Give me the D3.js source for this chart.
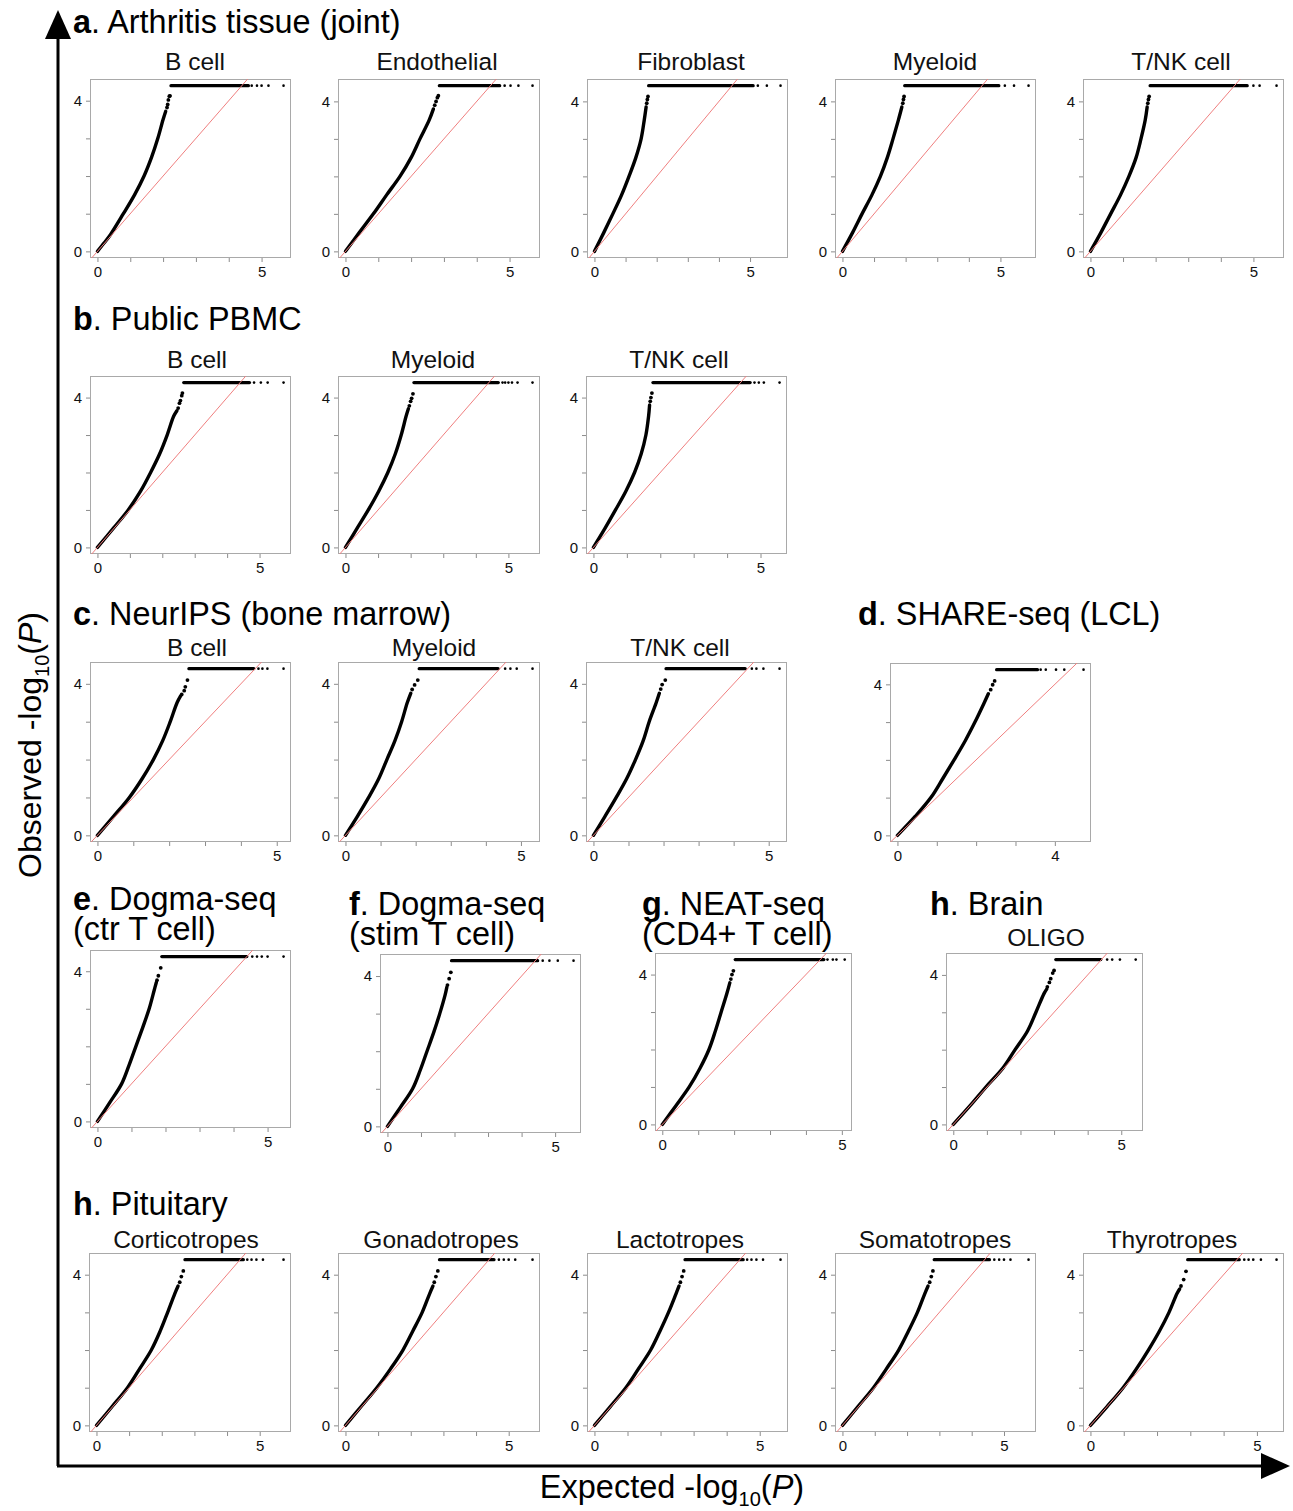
<!DOCTYPE html>
<html><head><meta charset="utf-8">
<script src="https://cdn.jsdelivr.net/npm/d3@7"></script>
<style>body{margin:0;background:#fff} text{font-family:"Liberation Sans", Arial, Helvetica, sans-serif}</style>
</head><body><svg id="c" width="1293" height="1511"></svg>
<script>
// ---------------- DATA ----------------
const panelIds = ["a1","a2","a3","a4","a5","b1","b2","b3","c1","c2","c3","d","e","f","g","h","p1","p2","p3","p4","p5"];
const panelTitles = ["B cell","Endothelial","Fibroblast","Myeloid","T/NK cell","B cell","Myeloid","T/NK cell","B cell","Myeloid","T/NK cell","","","","","OLIGO","Corticotropes","Gonadotropes","Lactotropes","Somatotropes","Thyrotropes"];
const xMaxValues = [5.67,5.70,5.98,5.89,5.71,5.74,5.74,5.57,5.19,5.33,5.31,4.73,5.47,5.55,5.08,5.43,5.73,5.73,5.63,5.76,5.59];
const capValues = [4.40,4.42,4.42,4.42,4.42,4.40,4.40,4.40,4.40,4.40,4.40,4.39,4.39,4.41,4.40,4.41,4.40,4.40,4.40,4.40,4.40];
const curvePoints = [
  [[0,0],[0.2,0.22],[0.4,0.45],[0.79,1],[1.13,1.5],[1.42,2],[1.65,2.5],[1.84,3],[2.0,3.5],[2.08,3.72]],
  [[0,0],[0.42,0.5],[0.85,1],[1.25,1.5],[1.66,2],[2.0,2.5],[2.27,3],[2.55,3.5],[2.68,3.8]],
  [[0,0],[0.3,0.5],[0.59,1],[0.87,1.5],[1.11,2],[1.33,2.5],[1.5,3],[1.6,3.5],[1.66,3.85]],
  [[0,0],[0.32,0.5],[0.62,1],[0.93,1.5],[1.2,2],[1.42,2.5],[1.6,3],[1.77,3.5],[1.88,3.85]],
  [[0,0],[0.32,0.5],[0.62,1],[0.92,1.5],[1.18,2],[1.4,2.5],[1.55,3],[1.68,3.5],[1.74,3.85]],
  [[0,0],[0.5,0.52],[0.95,1],[1.33,1.5],[1.64,2],[1.92,2.5],[2.15,3],[2.35,3.5],[2.45,3.65]],
  [[0,0],[0.35,0.5],[0.7,1],[1.02,1.5],[1.3,2],[1.53,2.5],[1.71,3],[1.86,3.5],[1.93,3.7]],
  [[0,0],[0.34,0.5],[0.66,1],[0.97,1.5],[1.23,2],[1.43,2.5],[1.57,3],[1.65,3.5],[1.68,3.8]],
  [[0,0],[0.45,0.5],[0.89,1],[1.25,1.5],[1.56,2],[1.82,2.5],[2.03,3],[2.22,3.5],[2.32,3.68]],
  [[0,0],[0.34,0.5],[0.66,1],[0.95,1.5],[1.18,2],[1.41,2.5],[1.6,3],[1.76,3.5],[1.86,3.75]],
  [[0,0],[0.33,0.5],[0.65,1],[0.95,1.5],[1.2,2],[1.42,2.5],[1.59,3],[1.79,3.5],[1.88,3.75]],
  [[0,0],[0.45,0.5],[0.85,1],[1.15,1.5],[1.44,2],[1.72,2.5],[1.97,3],[2.2,3.5],[2.31,3.75]],
  [[0,0],[0.36,0.5],[0.71,1],[0.93,1.5],[1.13,2],[1.33,2.5],[1.52,3],[1.67,3.5],[1.73,3.7]],
  [[0,0],[0.38,0.5],[0.75,1],[0.98,1.5],[1.18,2],[1.38,2.5],[1.56,3],[1.72,3.5],[1.77,3.7]],
  [[0,0],[0.38,0.5],[0.75,1],[1.05,1.5],[1.3,2],[1.48,2.5],[1.64,3],[1.8,3.5],[1.88,3.78]],
  [[0,0],[0.5,0.5],[0.97,1],[1.47,1.5],[1.84,2],[2.21,2.5],[2.46,3],[2.7,3.5],[2.78,3.62]],
  [[0,0],[0.48,0.5],[0.95,1],[1.32,1.5],[1.68,2],[1.95,2.5],[2.18,3],[2.4,3.5],[2.5,3.7]],
  [[0,0],[0.48,0.5],[0.96,1],[1.38,1.5],[1.76,2],[2.06,2.5],[2.35,3],[2.58,3.5],[2.68,3.7]],
  [[0,0],[0.48,0.5],[0.95,1],[1.33,1.5],[1.7,2],[1.98,2.5],[2.24,3],[2.47,3.5],[2.56,3.7]],
  [[0,0],[0.48,0.5],[0.96,1],[1.36,1.5],[1.74,2],[2.04,2.5],[2.32,3],[2.55,3.5],[2.65,3.7]],
  [[0,0],[0.5,0.5],[0.98,1],[1.38,1.5],[1.74,2],[2.07,2.5],[2.36,3],[2.6,3.5],[2.68,3.62]]
];
const topDots = [
  [[2.12,3.82],[2.14,3.9],[2.16,4.02],[2.19,4.12],[2.21,4.13]],
  [[2.72,3.9],[2.76,4.0],[2.8,4.1],[2.83,4.15]],
  [[1.68,3.95],[1.7,4.05],[1.72,4.13]],
  [[1.91,3.95],[1.93,4.05],[1.95,4.13]],
  [[1.76,3.95],[1.78,4.05],[1.8,4.13]],
  [[2.49,3.72],[2.53,3.85],[2.56,3.92],[2.6,4.05],[2.62,4.12]],
  [[1.96,3.78],[2.0,3.9],[2.03,3.98],[2.07,4.1]],
  [[1.7,3.9],[1.72,4.0],[1.75,4.12]],
  [[2.35,3.72],[2.42,3.82],[2.45,3.92],[2.51,4.1]],
  [[1.9,3.85],[1.97,3.97],[2.06,4.1]],
  [[1.92,3.86],[1.96,3.98],[2.05,4.1]],
  [[2.37,3.86],[2.42,3.99],[2.47,4.09]],
  [[1.75,3.76],[1.79,3.88],[1.86,4.09]],
  [[1.79,3.76],[1.84,3.93],[1.89,4.1]],
  [[1.91,3.88],[1.94,4.0],[1.98,4.1]],
  [[2.8,3.68],[2.86,3.8],[2.9,3.9],[2.96,4.05],[3.0,4.12]],
  [[2.55,3.8],[2.6,3.95],[2.66,4.1]],
  [[2.72,3.8],[2.77,3.95],[2.83,4.1]],
  [[2.6,3.8],[2.65,3.95],[2.7,4.1]],
  [[2.7,3.8],[2.75,3.95],[2.8,4.1]],
  [[2.72,3.7],[2.8,3.87],[2.87,4.09]]
];
const plateauStart = [2.24,2.86,1.74,1.97,1.83,2.66,2.10,1.78,2.55,2.10,2.07,2.52,1.89,1.91,2.03,3.05,2.71,2.88,2.74,2.84,2.92];
const plateauDenseEnd = [4.60,4.70,5.10,4.95,4.81,4.69,4.69,4.69,4.36,4.35,4.33,3.56,4.39,4.48,4.50,4.39,4.50,4.55,4.50,4.55,4.47];
const tailDots = [
  [4.7,4.86,5.0,5.21,5.67],
  [4.85,5.03,5.27,5.70],
  [5.25,5.54,5.98],
  [5.14,5.43,5.89],
  [5.0,5.19,5.71],
  [4.83,5.04,5.25,5.74],
  [4.82,4.9,5.0,5.11,5.28,5.74],
  [4.82,4.95,5.1,5.57],
  [4.49,4.6,4.74,5.19],
  [4.55,4.7,4.88,5.33],
  [4.52,4.65,4.85,5.31],
  [3.64,3.77,4.03,4.24,4.73],
  [4.55,4.69,4.83,5.0,5.47],
  [4.63,4.83,5.08,5.55],
  [4.6,4.75,4.85,5.08],
  [4.58,4.73,4.96,5.43],
  [4.62,4.75,4.9,5.1,5.73],
  [4.7,4.85,5.0,5.2,5.73],
  [4.62,4.75,4.9,5.1,5.63],
  [4.7,4.85,5.0,5.2,5.76],
  [4.62,4.75,4.89,5.12,5.59]
];
const yTickValues = [0,1,2,3,4];
const yTickLabels = ["0","","","","4"];
const sectionLetters = ["a","b","c","d","e","f","g","h","h"];
const sectionTitles = [". Arthritis tissue (joint)",". Public PBMC",". NeurIPS (bone marrow)",". SHARE-seq (LCL)",". Dogma-seq",". Dogma-seq",". NEAT-seq",". Brain",". Pituitary"];
const sectionSubLines = ["","","","","(ctr T cell)","(stim T cell)","(CD4+ T cell)","",""];

// ---------------- LAYOUT ----------------
const boxes = {
  a1:[90,79,201,179], a2:[338,79,202,179], a3:[587,79,201,179], a4:[835,79,201,179], a5:[1083,79,201,179],
  b1:[90,376,201,178], b2:[338,376,202,178], b3:[586,376,201,178],
  c1:[90,662,201,180], c2:[338,662,202,180], c3:[586,662,201,180], d:[890,663,201,179],
  e:[90,950,201,178], f:[380,954,201,179], g:[655,953,197,178], h:[946,953,197,178],
  p1:[89,1253,202,179], p2:[338,1253,202,179], p3:[587,1253,201,179], p4:[835,1253,201,179], p5:[1083,1253,201,179]
};
const titleX = {a1:195,a2:437,a3:691,a4:935,a5:1181,b1:197,b2:433,b3:679,c1:197,c2:434,c3:680,h:1046,
  p1:186,p2:441,p3:680,p4:935,p5:1172};
const titleBaseline = {a:70,b:368,c:656,h:946,p:1248};
const sectionPos = [[73,33],[73,330],[73,625],[858,625],[73,910],[349,915],[642,915],[930,915],[73,1215]];

const svg = d3.select("#c");
svg.append("rect").attr("width",1293).attr("height",1511).attr("fill","#fff");
const defs = svg.append("defs");

panelIds.forEach((id,i)=>{
  const [bx,by,bw,bh] = boxes[id];
  const xm = xMaxValues[i], cap = capValues[i];
  const x = d3.scaleLinear().domain([-0.04*xm, 1.04*xm]).range([bx,bx+bw]);
  const y = d3.scaleLinear().domain([-0.04*cap, 1.04*cap]).range([by+bh,by]);
  const g = svg.append("g");
  defs.append("clipPath").attr("id","clip"+id).append("rect").attr("x",bx).attr("y",by).attr("width",bw).attr("height",bh);
  g.append("rect").attr("x",bx+0.5).attr("y",by+0.5).attr("width",bw-1).attr("height",bh-1)
    .attr("fill","none").attr("stroke","#a9a9a9").attr("stroke-width",1);
  const xTicks = d3.range(0, Math.floor(xm)+1);
  const lastX = xTicks[xTicks.length-1];
  const xAxis = d3.axisBottom(x).tickValues(xTicks).tickSize(4).tickPadding(3)
    .tickFormat(d => (d===0||d===lastX)? String(d) : "");
  const gx = g.append("g").attr("transform",`translate(0,${by+bh})`).call(xAxis);
  const yAxis = d3.axisLeft(y).tickValues(yTickValues).tickSize(4).tickPadding(4)
    .tickFormat((d,k)=>yTickLabels[k]);
  const gy = g.append("g").attr("transform",`translate(${bx},0)`).call(yAxis);
  [gx,gy].forEach(a=>{
    a.select(".domain").remove();
    a.selectAll(".tick line").attr("stroke","#8c8c8c");
    a.selectAll(".tick text").attr("fill","#111").attr("font-size",15)
      .attr("font-family",'"Liberation Sans", Arial, sans-serif');
  });
  gx.selectAll(".tick text").attr("dy","0.8em");
  if (panelTitles[i]) {
    const key = id==="h" ? "h" : id[0];
    g.append("text").attr("x",titleX[id]).attr("y",titleBaseline[key]).attr("text-anchor","middle")
      .attr("font-size",24.5).attr("fill","#111").text(panelTitles[i]);
  }
  const pg = g.append("g").attr("clip-path",`url(#clip${id})`);
  const line = d3.line().x(d=>x(d[0])).y(d=>y(d[1])).curve(d3.curveCatmullRom.alpha(0.5));
  pg.append("path").attr("d",line(curvePoints[i])).attr("fill","none").attr("stroke","#000")
    .attr("stroke-width",3.4).attr("stroke-linecap","round").attr("stroke-linejoin","round");
  pg.selectAll("circle.top").data(topDots[i]).enter().append("circle")
    .attr("cx",d=>x(d[0])).attr("cy",d=>y(d[1])).attr("r",1.9).attr("fill","#000");
  pg.append("line").attr("x1",x(plateauStart[i])).attr("x2",x(plateauDenseEnd[i]))
    .attr("y1",y(cap)).attr("y2",y(cap)).attr("stroke","#000").attr("stroke-width",3.2).attr("stroke-linecap","round");
  pg.selectAll("circle.tail").data(tailDots[i]).enter().append("circle")
    .attr("cx",d=>x(d)).attr("cy",y(cap)).attr("r",1.3).attr("fill","#000");
  pg.append("line").attr("x1",x(-1)).attr("y1",y(-1)).attr("x2",x(10)).attr("y2",y(10))
    .attr("stroke","#f07f7f").attr("stroke-width",1);
});

// section headings
sectionLetters.forEach((L,k)=>{
  const [sx,sy] = sectionPos[k];
  const t = svg.append("text").attr("x",sx).attr("y",sy).attr("font-size",32.4).attr("fill","#000");
  t.append("tspan").attr("font-weight","bold").text(L);
  t.append("tspan").text(sectionTitles[k]);
  if (sectionSubLines[k]) {
    t.append("tspan").attr("x",sx).attr("dy",30).text(sectionSubLines[k]);
  }
});

// big axes arrows
svg.append("line").attr("x1",58).attr("y1",1466).attr("x2",58).attr("y2",30).attr("stroke","#000").attr("stroke-width",3);
svg.append("path").attr("d","M58,10 L45,39 L71,39 Z").attr("fill","#000");
svg.append("line").attr("x1",57).attr("y1",1466).attr("x2",1268).attr("y2",1466).attr("stroke","#000").attr("stroke-width",3);
svg.append("path").attr("d","M1290,1466 L1261,1453 L1261,1479 Z").attr("fill","#000");

// axis titles
const xl = svg.append("text").attr("x",672).attr("y",1498).attr("text-anchor","middle").attr("font-size",32.5).attr("fill","#000");
xl.append("tspan").text("Expected -log");
xl.append("tspan").attr("font-size",20).attr("dy",8).text("10");
xl.append("tspan").attr("dy",-8).text("(");
xl.append("tspan").attr("font-style","italic").text("P");
xl.append("tspan").text(")");
const yl = svg.append("text").attr("transform","translate(41,745) rotate(-90)").attr("text-anchor","middle").attr("font-size",32).attr("fill","#000");
yl.append("tspan").text("Observed -log");
yl.append("tspan").attr("font-size",20).attr("dy",8).text("10");
yl.append("tspan").attr("dy",-8).text("(");
yl.append("tspan").attr("font-style","italic").text("P");
yl.append("tspan").text(")");
</script></body></html>
